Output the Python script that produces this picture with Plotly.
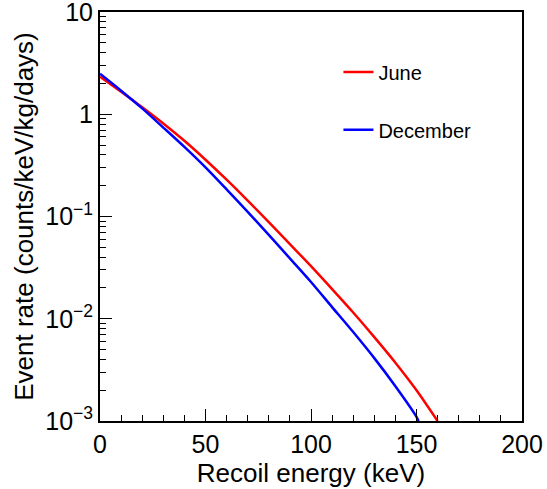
import plotly.graph_objects as go

# Recoil energy (keV)
energy_june = [0, 10, 20, 30, 40, 50, 60, 70, 80, 90, 100, 110, 120, 130, 140, 150, 160]
# Event rate (counts/keV/kg/days), June
rate_june = [2.33, 1.66, 1.17, 0.813, 0.550, 0.359, 0.229, 0.143, 0.0881, 0.0537,
             0.0327, 0.0195, 0.0115, 0.00661, 0.00372, 0.00200, 0.00100]

energy_dec = [0, 10, 20, 30, 40, 50, 60, 70, 80, 90, 100, 110, 120, 130, 140, 150, 151]
# Event rate (counts/keV/kg/days), December
rate_dec = [2.49, 1.70, 1.14, 0.741, 0.479, 0.302, 0.184, 0.111, 0.0661, 0.0389,
            0.0229, 0.0130, 0.00741, 0.00412, 0.00219, 0.00110, 0.00100]

x_ticks = [0, 50, 100, 150, 200]
y_ticks = [1e-3, 1e-2, 1e-1, 1, 10]
y_ticktext = ["10<sup>−3</sup>", "10<sup>−2</sup>", "10<sup>−1</sup>", "1", "10"]

FONT = "Liberation Sans, Arial, Helvetica, sans-serif"

fig = go.Figure()
fig.add_trace(go.Scatter(x=energy_june, y=rate_june, mode="lines", name="June",
                         line=dict(color="#ff0000", width=2.5, shape="spline", smoothing=0.8),
                         legend="legend"))
fig.add_trace(go.Scatter(x=energy_dec, y=rate_dec, mode="lines", name="December",
                         line=dict(color="#0000ff", width=2.5, shape="spline", smoothing=0.8),
                         legend="legend2"))

legend_common = dict(bgcolor="rgba(0,0,0,0)", borderwidth=0,
                     font=dict(family=FONT, size=20, color="black"),
                     xanchor="left", yanchor="middle", itemwidth=30)

fig.update_layout(
    width=547, height=489,
    margin=dict(l=100, r=25, t=12, b=68),
    paper_bgcolor="white", plot_bgcolor="white",
    font=dict(family=FONT, color="black"),
    showlegend=True,
    legend=dict(x=0.565, y=0.853, **legend_common),
    legend2=dict(x=0.565, y=0.712, **legend_common),
    xaxis=dict(
        range=[0, 200], tickvals=x_ticks, ticks="inside", ticklen=12, tickwidth=1,
        tickcolor="black", showline=True, linecolor="black", linewidth=2, mirror=True,
        showgrid=False, zeroline=False, automargin=False, ticklabeloverflow="allow",
        tickfont=dict(family=FONT, size=25, color="black"),
        minor=dict(ticks="inside", ticklen=6, dtick=10, tickcolor="black", tickwidth=1, showgrid=False),
        title=dict(text="Recoil energy (keV)", font=dict(family=FONT, size=26, color="black"), standoff=0),
    ),
    yaxis=dict(
        type="log", range=[-3, 1], tickvals=y_ticks, ticktext=y_ticktext,
        ticks="inside", ticklen=12, tickwidth=1, tickcolor="black",
        showline=True, linecolor="black", linewidth=2, mirror=True,
        showgrid=False, zeroline=False, automargin=False, ticklabeloverflow="allow",
        tickfont=dict(family=FONT, size=25, color="black"),
        minor=dict(ticks="inside", ticklen=6, dtick="D1", tickcolor="black", tickwidth=1, showgrid=False),
        title=dict(text="Event rate (counts/keV/kg/days)", font=dict(family=FONT, size=26, color="black"), standoff=4),
    ),
)

fig.write_html("out.html", config={"displayModeBar": False},
               post_script="document.body.style.margin='0';")
